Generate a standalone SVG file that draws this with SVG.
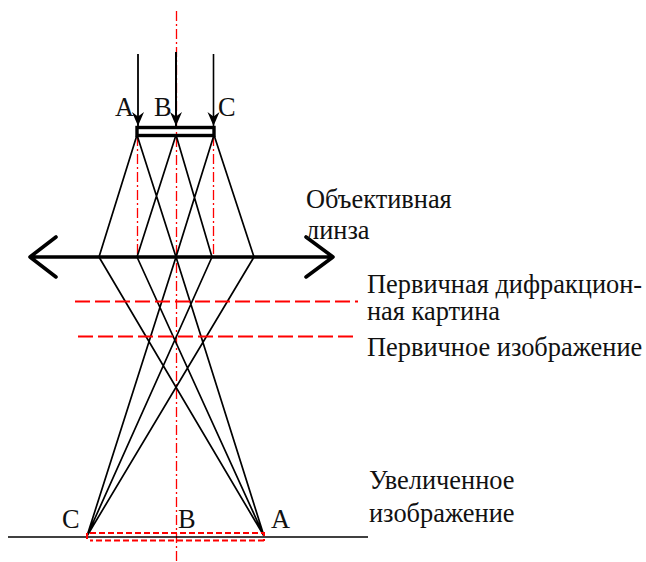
<svg xmlns="http://www.w3.org/2000/svg" width="646" height="562" viewBox="0 0 646 562">
<style>
text{font-family:"Liberation Serif","Times New Roman",serif;font-size:26.4px;fill:#111}
.r{stroke:#000;stroke-width:1.7;fill:none}
.ax{stroke:#f00;stroke-width:1.3;fill:none;stroke-dasharray:10 3 2 3}
.dash{stroke:#f00;stroke-width:2;fill:none;stroke-dasharray:15 5}
.sd{stroke:#f00;stroke-width:2;fill:none;stroke-dasharray:6 3}
.th{stroke:#000;stroke-width:3.6;fill:none;stroke-linecap:round;stroke-linejoin:round}
</style>
<defs><marker id="ah" markerUnits="userSpaceOnUse" markerWidth="15" markerHeight="14" refX="14" refY="7" orient="auto"><path d="M0 1L14 7L0 13L4.500 7Z" fill="#000"/></marker></defs>
<g id="connectors">
<line class="ax" x1="176.500" y1="11" x2="176.500" y2="562"/>
<line class="ax" x1="137.500" y1="136" x2="137.500" y2="257"/>
<line class="ax" x1="213.500" y1="136" x2="213.500" y2="257"/>
<path class="r" d="M137 135L99 257M137 135L176 257M176 135L137 257M176 135L212 257M214 135L176 257M214 135L254 257"/>
<path class="r" d="M99 257L264 536M137 257L264 536M176 257L264 536M176 257L87 536M212 257L87 536M254 257L87 536"/>
<line class="dash" x1="75" y1="301.500" x2="358" y2="301.500"/>
<line class="dash" x1="78" y1="336.500" x2="358" y2="336.500"/>
<line x1="138" y1="54" x2="138" y2="126" stroke="#000" stroke-width="1.8" marker-end="url(#ah)"/>
<line x1="176" y1="52" x2="176" y2="126" stroke="#000" stroke-width="2" marker-end="url(#ah)"/>
<line x1="213.500" y1="54" x2="213.500" y2="126" stroke="#000" stroke-width="1.6" marker-end="url(#ah)"/>
</g>
<g id="lens"><path class="th" d="M30 257H333M56 237L30 257L56 277M306 237L333 257L306 277"/></g>
<g id="specimen"><rect x="137" y="127.500" width="77" height="8" fill="none" stroke="#000" stroke-width="3.4"/></g>
<g id="image-plane">
<line x1="8" y1="537" x2="368" y2="537" stroke="#000" stroke-width="1.6"/>
<path class="sd" d="M87 539V533H264V541M264 540.500H90"/>
</g>
<g id="labels">
<text x="115" y="116">A</text><text x="154" y="116">B</text><text x="218" y="116">C</text>
<text x="62" y="528">C</text><text x="178" y="528">B</text><text x="271" y="528">A</text>
<text x="306" y="208">Объективная</text><text x="306" y="239">линза</text>
<text x="367" y="293">Первичная дифракцион-</text><text x="367" y="320">ная картина</text>
<text x="367" y="356">Первичное изображение</text>
<text x="369" y="489">Увеличенное</text><text x="369" y="522">изображение</text>
</g>
</svg>
